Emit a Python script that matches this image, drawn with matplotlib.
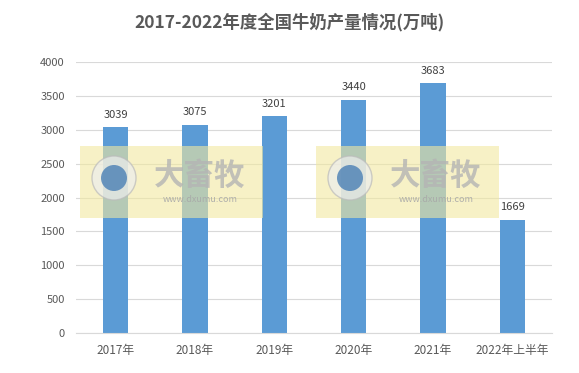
import numpy as np
import matplotlib.pyplot as plt
from matplotlib.patches import Rectangle, Circle

plt.rcParams['font.family'] = ['Noto Sans CJK SC', 'DejaVu Sans']

# Donnees
categories = ['2017年', '2018年', '2019年', '2020年', '2021年', '2022年上半年']
valeurs = [3039, 3075, 3201, 3440, 3683, 1669]
yticks = [0, 500, 1000, 1500, 2000, 2500, 3000, 3500, 4000]

fig = plt.figure(figsize=(5.79, 3.73), dpi=100)
ax = fig.add_axes([76/579, 1-333/373, 476/579, 271/373])

x = np.arange(len(categories))
ax.bar(x, valeurs, width=0.32, color='#5B9BD5', zorder=2)
for xi, v in zip(x, valeurs):
    ax.text(xi, v + 110, str(v), ha='center', va='bottom', fontsize=8, color='#404040')

ax.set_ylim(0, 4000)
ax.set_xlim(-0.5, len(categories) - 0.5)
ax.set_yticks(yticks)
ax.set_xticks(x)
ax.set_xticklabels(categories)
ax.tick_params(axis='both', length=0, labelsize=8, labelcolor='#595959')
ax.tick_params(axis='x', labelsize=8.5)
ax.tick_params(axis='y', pad=8)
ax.tick_params(axis='x', pad=8)
ax.grid(axis='y', color='#D9D9D9', linewidth=0.8, zorder=0)
for s in ['top', 'right', 'left']:
    ax.spines[s].set_visible(False)
ax.spines['bottom'].set_color('#D9D9D9')

fig.text(0.5, 1-22/373, '2017-2022年度全国牛奶产量情况(万吨)', ha='center', va='center',
         fontsize=12.5, fontweight='bold', color='#595959')

# Filigrane
for x0 in [80, 316]:
    fig.patches.append(Rectangle((x0/579, 1-218/373), 183/579, 72/373, transform=fig.transFigure,
                                 facecolor='#F2E9A0', alpha=0.6, zorder=5))
    fig.patches.append(Circle((x0 + 34, 373-178), 22, transform=None,
                              facecolor='#EDEDED', edgecolor='#BBBBBB', alpha=0.7, zorder=6))
    fig.patches.append(Circle((x0 + 34, 373-178), 13, transform=None,
                              facecolor='#4A7FB5', alpha=0.8, zorder=7))
    fig.text((x0 + 120)/579, 1-176/373, '大畜牧', ha='center', va='center', fontsize=22,
             fontweight='bold', color='#B4B4B4', alpha=0.8, zorder=8)
    fig.text((x0 + 120)/579, 1-200/373, 'www.dxumu.com', ha='center', va='center', fontsize=6.5,
             color='#A8A8A8', alpha=0.9, zorder=8)

plt.savefig('out.png', dpi=100)
